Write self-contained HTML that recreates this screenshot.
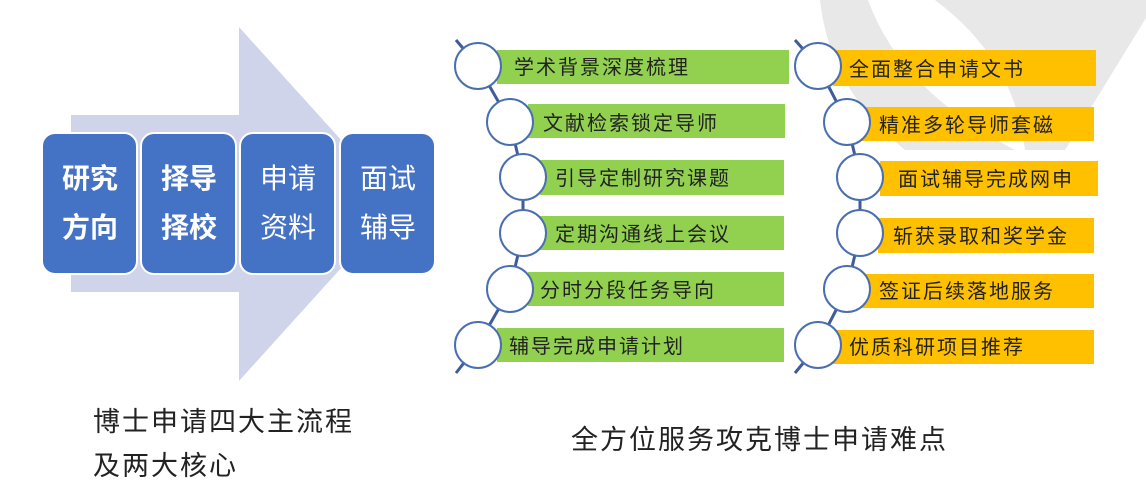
<!DOCTYPE html>
<html><head><meta charset="utf-8"><style>
body{margin:0;width:1146px;height:493px;background:#fff;overflow:hidden;position:relative;font-family:"Liberation Sans","Noto Sans CJK SC",sans-serif}
svg{position:absolute;left:0;top:0}
.t{position:absolute;color:#222;font-size:27px;letter-spacing:2px;line-height:44px;white-space:nowrap}
</style></head><body>
<svg width="1146" height="493" viewBox="0 0 1146 493">
<path d="M820,0 L868,0 Q900,90 1015,150 L905,150 Q830,90 820,0 Z" fill="#e8e8e8"/>
<path d="M935,0 L1146,0 L1146,18 L1065,150 L1025,150 Q1015,60 935,0 Z" fill="#e8e8e8"/>
<polygon points="71,115 239,115 239,27 399,204 239,381 239,292 71,292" fill="#d0d4ea"/>
<g fill="#4472c4" stroke="#fff" stroke-width="2">
<rect x="42" y="133" width="95" height="141" rx="13"/>
<rect x="141" y="133" width="95" height="141" rx="13"/>
<rect x="240" y="133" width="95" height="141" rx="13"/>
<rect x="340" y="133" width="95" height="141" rx="13"/>
</g>
<g fill="#fff" font-size="28" text-anchor="middle" font-family="Liberation Sans,Noto Sans CJK SC,sans-serif">
<text x="90" y="188" font-weight="bold">研究</text><text x="90" y="237" font-weight="bold">方向</text>
<text x="189" y="188" font-weight="bold">择导</text><text x="189" y="237" font-weight="bold">择校</text>
<text x="288" y="188">申请</text><text x="288" y="237">资料</text>
<text x="388" y="188">面试</text><text x="388" y="237">辅导</text>
</g>
<g fill="#92d050">
<rect x="497" y="50" width="292" height="34"/><rect x="528" y="104" width="257" height="34"/>
<rect x="540" y="160" width="244" height="35"/><rect x="540" y="216" width="244" height="34"/>
<rect x="528" y="272" width="256" height="34"/><rect x="497" y="328" width="287" height="34"/>
</g>
<g fill="#ffc000">
<rect x="833" y="50" width="263" height="36"/><rect x="862" y="107" width="232" height="34"/>
<rect x="880" y="161" width="218" height="35"/><rect x="878" y="218" width="216" height="35"/>
<rect x="862" y="274" width="232" height="34"/><rect x="833" y="330" width="261" height="34"/>
</g>
<g fill="none" stroke="#3f5b9a" stroke-width="3">
<polyline points="456,40 478,66 510,122 523,177 523,233 510,289 478,345 456,373"/>
<polyline points="795,40 818,66 847,122 860,177 860,233 847,289 818,345 795,373"/>
</g>
<g fill="#fff" stroke="#4a6fb0" stroke-width="2">
<circle cx="478" cy="66" r="23"/><circle cx="510" cy="122" r="23"/><circle cx="523" cy="177" r="23"/>
<circle cx="523" cy="233" r="23"/><circle cx="510" cy="289" r="23"/><circle cx="478" cy="345" r="23"/>
<circle cx="818" cy="66" r="23"/><circle cx="847" cy="122" r="23"/><circle cx="860" cy="177" r="23"/>
<circle cx="860" cy="233" r="23"/><circle cx="847" cy="289" r="23"/><circle cx="818" cy="345" r="23"/>
</g>
<g fill="#222" font-size="20" letter-spacing="2" font-family="Liberation Sans,Noto Sans CJK SC,sans-serif">
<text x="514" y="74">学术背景深度梳理</text>
<text x="543" y="130">文献检索锁定导师</text>
<text x="555" y="185">引导定制研究课题</text>
<text x="555" y="241">定期沟通线上会议</text>
<text x="540" y="297">分时分段任务导向</text>
<text x="509" y="353">辅导完成申请计划</text>
<text x="849" y="76">全面整合申请文书</text>
<text x="879" y="132">精准多轮导师套磁</text>
<text x="898" y="186">面试辅导完成网申</text>
<text x="893" y="243">斩获录取和奖学金</text>
<text x="879" y="298">签证后续落地服务</text>
<text x="849" y="354">优质科研项目推荐</text>
</g>
</svg>
<div class="t" style="left:93px;top:400px">博士申请四大主流程<br>及两大核心</div>
<div class="t" style="left:571px;top:418px">全方位服务攻克博士申请难点</div>
</body></html>
